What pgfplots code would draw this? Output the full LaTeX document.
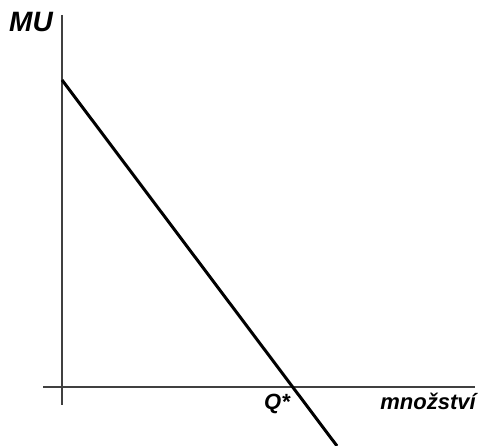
\documentclass[border=0pt]{standalone}
\usepackage{fontspec}
\setmainfont{Liberation Sans}
\usepackage{pgfplots}
\pgfplotsset{compat=1.18}
\begin{document}
\begin{tikzpicture}
\begin{axis}[
  at={(0pt,0pt)}, anchor=south west,
  scale only axis, width=479pt, height=446pt,
  xmin=0, xmax=479, ymin=0, ymax=446,
  hide axis, clip=false,
]
% vertical axis
\addplot[black!75, line width=1.3pt] coordinates {(62,431) (62,41)};
% horizontal axis
\addplot[black!75, line width=1.3pt] coordinates {(43,59) (475,59)};
% MU line
\addplot[black, line width=3pt] coordinates {(62,366) (337,0)};
\node[anchor=base, font=\fontsize{28}{28}\selectfont\bfseries\itshape] at (axis cs:31,414) {MU};
\node[anchor=base, font=\fontsize{22}{22}\selectfont\bfseries\itshape] at (axis cs:277,36) {Q*};
\node[anchor=base, font=\fontsize{22}{22}\selectfont\bfseries\itshape] at (axis cs:428,36) {množství};
\end{axis}
\pgfresetboundingbox
\path[use as bounding box] (0pt,0pt) rectangle (479pt,446pt);
\end{tikzpicture}
\end{document}
